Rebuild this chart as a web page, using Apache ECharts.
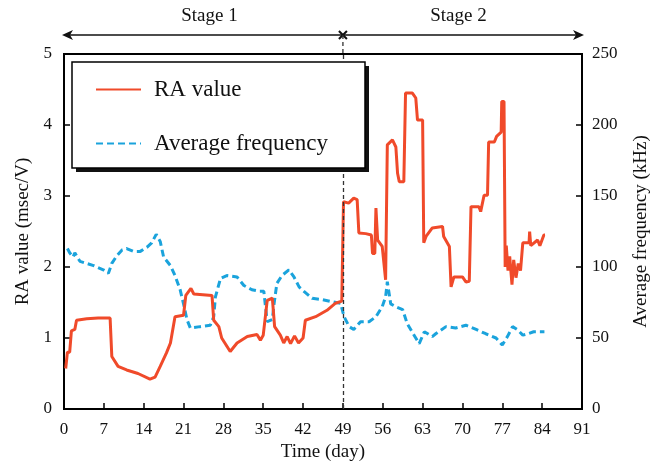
<!DOCTYPE html>
<html>
<head>
<meta charset="utf-8">
<script src="https://cdn.jsdelivr.net/npm/echarts@6/dist/echarts.min.js"></script>
<style>
  html, body { margin: 0; padding: 0; background: #fff; }
  #main { width: 661px; height: 462px; }
</style>
</head>
<body>
<div id="main"></div>
<script>
// RA value (left axis)
var raDays = [0.3, 0.6, 1.0, 1.3, 1.9, 2.2, 4, 6, 8.1, 8.4, 9.5, 11, 13, 15.1, 16.0, 16.9, 18, 18.7, 19.5, 21,
  21.4, 22.3, 22.8, 26, 26.3, 27.2, 27.7, 29.2, 30.4, 32.2, 33.9, 34.5, 35.0, 35.7, 36.6, 37.0, 38, 38.6, 39.2, 39.8,
  40.5, 41.2, 42, 42.4, 44.2, 46.2, 47.7, 48.8, 49.1, 50, 50.9, 51.5, 51.8, 53, 54, 54.2, 54.6, 54.8, 55.1, 55.9,
  56.5, 56.8, 57.7, 58.3, 58.6, 58.9, 59.7, 60.0, 61.2, 61.8, 62.1, 63.0, 63.2, 63.6, 64.7, 66.5, 66.7, 67.7, 68.0, 68.5,
  70.0, 70.6, 71.2, 71.5, 72.9, 73.2, 73.8, 74.4, 74.6, 75.6, 76.0, 76.8, 76.9, 77.3, 77.5, 77.7, 78.0, 78.3, 78.7, 79.0,
  79.4, 79.8, 80.2, 80.6, 81.7, 81.8, 82.0, 83.2, 83.6, 84.3, 84.5];
var raValues = [0.57, 0.8, 0.8, 1.1, 1.12, 1.25, 1.27, 1.28, 1.28, 0.74, 0.6, 0.55, 0.5, 0.42, 0.45, 0.6, 0.79, 0.93, 1.3, 1.32,
  1.6, 1.7, 1.62, 1.6, 1.25, 1.16, 1.0, 0.81, 0.93, 1.02, 1.05, 0.97, 1.04, 1.53, 1.56, 1.16, 1.04, 0.93, 1.02, 0.92,
  1.03, 0.93, 1.0, 1.25, 1.3, 1.39, 1.49, 1.52, 2.92, 2.9, 2.97, 2.95, 2.48, 2.47, 2.45, 2.19, 2.19, 2.83, 2.38, 2.29,
  1.82, 3.72, 3.79, 3.69, 3.32, 3.2, 3.2, 4.45, 4.45, 4.38, 4.07, 4.07, 2.34, 2.43, 2.55, 2.57, 2.43, 2.29, 1.72, 1.86,
  1.86, 1.79, 1.8, 2.85, 2.85, 2.78, 3.01, 3.01, 3.76, 3.76, 3.84, 3.9, 4.33, 4.33, 2.0, 2.3, 1.95, 2.15, 1.75, 2.1,
  1.85, 2.05, 1.95, 2.34, 2.34, 2.5, 2.3, 2.38, 2.3, 2.45, 2.45];

// Average frequency (right axis, kHz)
var freqDays = [0.6, 1.0, 1.6, 1.9, 2.8, 5.2, 6.9, 7.8, 8.4, 9.3, 10.2, 11, 12.2, 13.4, 14.6, 15.4, 16.2, 16.9, 17.5, 18.7,
  19.5, 20.4, 21, 21.6, 22.2, 23.9, 25.7, 26.3, 26.6, 27.5, 28.6, 30.4, 31.6, 33, 34.2, 35.1, 35.4, 35.7, 36.6, 36.9,
  37.4, 38.3, 39.5, 40.4, 41.3, 42.1, 43.6, 45.4, 47.1, 48.6, 49.2, 50.1, 50.9, 52.1, 53.6, 54.8, 55.9, 56.5, 56.8, 57.4,
  58.3, 59.5, 60.3, 61.5, 62.4, 63.3, 64.7, 65.3, 67.1, 68.8, 70.6, 72.4, 74.1, 75.9, 77.0, 77.9, 78.8, 79.6, 80.6, 81.5,
  82.5, 84.4];
var freqValues = [113, 110, 107, 110, 104, 101, 98, 95.5, 102.6, 108, 112, 113, 111, 111, 114, 117, 123, 118, 107, 101,
  94, 84, 74, 63, 57, 58, 59, 65, 79, 92, 94, 93, 87, 84, 83, 83, 72, 61.5, 63, 74,
  88.5, 94, 98, 93, 86, 83, 78, 77, 75.5, 74.4, 65, 58, 56, 61.5, 61.5, 65, 72, 79, 89.6, 74,
  72, 70, 60, 52, 46, 54.4, 51, 53, 58, 57, 59, 56, 53, 50, 45, 51, 58, 56, 52, 53,
  54.4, 54.4];

var stageSplit = 49;
var stageNames = ['Stage 1', 'Stage 2'];

function pairs(xs, ys) {
  var out = [];
  for (var i = 0; i < xs.length; i++) out.push([xs[i], ys[i]]);
  return out;
}

var font = 'Liberation Serif';
var chart = echarts.init(document.getElementById('main'));

chart.setOption({
  animation: false,
  grid: {
    left: 64, right: 79, top: 54, bottom: 53, outerBoundsMode: 'none',
    show: true, borderColor: '#000', borderWidth: 2, backgroundColor: 'transparent'
  },
  legend: {
    orient: 'vertical',
    left: 72, top: 62, z: 12,
    padding: [16, 20, 15, 23],
    itemWidth: 45, itemHeight: 20, itemGap: 31,
    itemStyle: { opacity: 0 },
    textStyle: { fontFamily: font, fontSize: 23, color: '#111', padding: [0, 0, 0, 8] },
    data: ['RA value', 'Average frequency']
  },
  xAxis: {
    type: 'value', min: 0, max: 91, interval: 7,
    name: 'Time (day)', nameLocation: 'middle', nameGap: 34,
    nameTextStyle: { fontFamily: font, fontSize: 19, color: '#111' },
    axisLine: { lineStyle: { color: '#000', width: 2 } },
    axisTick: { inside: true, length: 6, lineStyle: { color: '#000', width: 1.5 } },
    axisLabel: { fontFamily: font, fontSize: 17, color: '#111', margin: 12 },
    splitLine: { show: false }
  },
  yAxis: [{
    type: 'value', min: 0, max: 5, interval: 1,
    name: 'RA value (msec/V)', nameLocation: 'middle', nameGap: 30,
    nameTextStyle: { fontFamily: font, fontSize: 19, color: '#111' },
    axisLine: { show: true, lineStyle: { color: '#000', width: 2 } },
    axisTick: { show: true, inside: true, length: 6, lineStyle: { color: '#000', width: 1.5 } },
    axisLabel: { fontFamily: font, fontSize: 17, color: '#111', margin: 12 },
    splitLine: { show: false }
  }, {
    type: 'value', min: 0, max: 250, interval: 50, position: 'right',
    name: 'Average frequency (kHz)', nameLocation: 'middle', nameGap: 50,
    nameTextStyle: { fontFamily: font, fontSize: 19, color: '#111' },
    axisLine: { show: true, lineStyle: { color: '#000', width: 2 } },
    axisTick: { show: true, inside: true, length: 6, lineStyle: { color: '#000', width: 1.5 } },
    axisLabel: { fontFamily: font, fontSize: 17, color: '#111', margin: 10 },
    splitLine: { show: false }
  }],
  series: [{
    name: 'RA value', type: 'line', yAxisIndex: 0, symbol: 'none',
    lineStyle: { color: '#f04a2a', width: 3 },
    itemStyle: { color: '#f04a2a' },
    z: 3,
    data: pairs(raDays, raValues),
    markLine: {
      silent: true, symbol: 'none', label: { show: false },
      lineStyle: { color: '#333', type: [4, 3], width: 1.3 },
      data: [{ xAxis: stageSplit }]
    }
  }, {
    name: 'Average frequency', type: 'line', yAxisIndex: 1, symbol: 'none',
    lineStyle: { color: '#1aa3dc', width: 3, type: [7, 4] },
    itemStyle: { color: '#1aa3dc' },
    z: 2,
    data: pairs(freqDays, freqValues)
  }]
});

// stage arrows above the plot, placed from the x axis scale
var x0 = chart.convertToPixel({ xAxisIndex: 0 }, 0);
var xs = chart.convertToPixel({ xAxisIndex: 0 }, stageSplit);
var x1 = chart.convertToPixel({ xAxisIndex: 0 }, 91);
var yTop = chart.convertToPixel({ yAxisIndex: 0 }, 5);
var ay = 35;
var ink = { stroke: '#111', lineWidth: 1.6 };
chart.setOption({
  graphic: [
    // legend frame with drop shadow
    { type: 'rect', z: 10, shape: { x: 76, y: 66, width: 293, height: 106 }, style: { fill: '#111' } },
    { type: 'rect', z: 11, shape: { x: 72, y: 62, width: 293, height: 106 }, style: { fill: '#fff', stroke: '#000', lineWidth: 1.5 } },
    { type: 'line', shape: { x1: x0 + 2, y1: ay, x2: x1 - 2, y2: ay }, style: ink },
    { type: 'polygon', shape: { points: [[x0 - 2, ay], [x0 + 9, ay - 5], [x0 + 6, ay], [x0 + 9, ay + 5]] }, style: { fill: '#111' } },
    { type: 'polygon', shape: { points: [[x1 + 2, ay], [x1 - 9, ay - 5], [x1 - 6, ay], [x1 - 9, ay + 5]] }, style: { fill: '#111' } },
    { type: 'line', shape: { x1: xs - 4, y1: ay - 4, x2: xs + 4, y2: ay + 4 }, style: { stroke: '#111', lineWidth: 2 } },
    { type: 'line', shape: { x1: xs - 4, y1: ay + 4, x2: xs + 4, y2: ay - 4 }, style: { stroke: '#111', lineWidth: 2 } },
    { type: 'line', shape: { x1: xs, y1: ay, x2: xs, y2: yTop }, style: { stroke: '#333', lineWidth: 1.3, lineDash: [4, 3] } },
    { type: 'text', x: (x0 + xs) / 2 + 6, y: 16, style: { text: stageNames[0], font: '19px ' + font, fill: '#111', align: 'center', verticalAlign: 'middle' } },
    { type: 'text', x: (xs + x1) / 2 - 4, y: 16, style: { text: stageNames[1], font: '19px ' + font, fill: '#111', align: 'center', verticalAlign: 'middle' } }
  ]
});
</script>
</body>
</html>
